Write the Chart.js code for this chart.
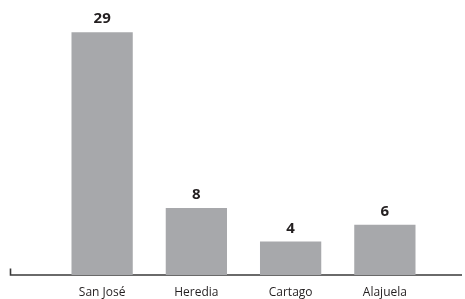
<!DOCTYPE html>
<html>
<head>
<meta charset="utf-8">
<script src="https://cdn.jsdelivr.net/npm/chart.js@4"></script>
<style>
html,body{margin:0;padding:0;background:#fff;}
#wrap{width:465px;height:299px;position:relative;}
</style>
</head>
<body>
<div id="wrap"><canvas id="c" width="465" height="299"></canvas></div>
<script>
const categories = ['San José', 'Heredia', 'Cartago', 'Alajuela'];
const values = [29, 8, 4, 6];

const valueLabels = {
  id: 'valueLabels',
  afterDatasetsDraw(chart) {
    const ctx = chart.ctx;
    const meta = chart.getDatasetMeta(0);
    ctx.save();
    ctx.font = 'bold 15px "Open Sans", sans-serif';
    ctx.fillStyle = '#231f20';
    ctx.textAlign = 'center';
    ctx.textBaseline = 'alphabetic';
    meta.data.forEach((bar, i) => {
      ctx.fillText(String(values[i]), bar.x, bar.y - 9);
    });
    ctx.restore();
  }
};

const baseLine = {
  id: 'baseLine',
  beforeDatasetsDraw(chart) {
    const ctx = chart.ctx;
    const y = chart.chartArea.bottom;
    ctx.save();
    ctx.strokeStyle = '#3a3a3a';
    ctx.lineWidth = 1.6;
    ctx.beginPath();
    ctx.moveTo(10.5, y - 6.5);
    ctx.lineTo(10.5, y);
    ctx.lineTo(462, y);
    ctx.stroke();
    ctx.restore();
  }
};

new Chart(document.getElementById('c'), {
  type: 'bar',
  data: {
    labels: categories,
    datasets: [{
      data: values,
      backgroundColor: '#a7a8ab',
      borderWidth: 0,
      categoryPercentage: 1,
      barPercentage: 0.65
    }]
  },
  options: {
    responsive: false,
    animation: false,
    devicePixelRatio: 1,
    layout: { padding: { left: 55, right: 33, top: 7, bottom: 0 } },
    plugins: { legend: { display: false }, tooltip: { enabled: false } },
    scales: {
      y: { display: false, min: 0, max: 32 },
      x: {
        afterFit(scale) { scale.height = 24; },
        grid: { display: false, drawTicks: false },
        border: { display: false },
        ticks: {
          padding: 12,
          color: '#231f20',
          font: { family: '"Open Sans", sans-serif', size: 12, lineHeight: 1 }
        }
      }
    }
  },
  plugins: [baseLine, valueLabels]
});
</script>
</body>
</html>
